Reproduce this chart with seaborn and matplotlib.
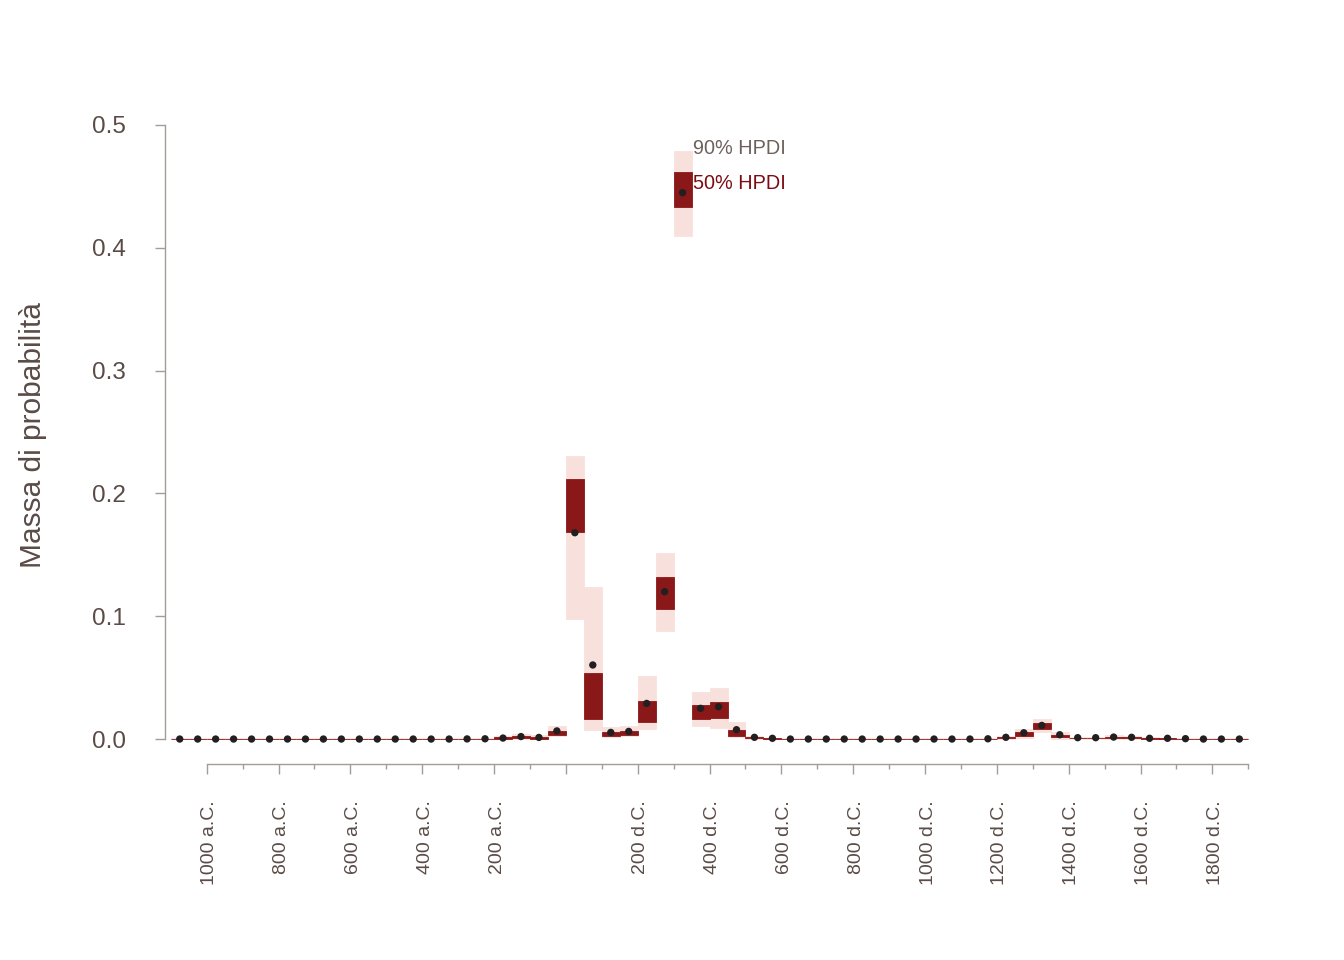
import matplotlib
matplotlib.use("Agg")
import numpy as np
import pandas as pd
import matplotlib.pyplot as plt
import matplotlib.transforms as mtrans
import seaborn as sns

# bin centres (50-year bins), years: negative = a.C.
anni = [-1075, -1025, -975, -925, -875, -825, -775, -725, -675, -625,
        -575, -525, -475, -425, -375, -325, -275, -225, -175, -125,
        -75, -25, 25, 75, 125, 175, 225, 275, 325, 375,
        425, 475, 525, 575, 625, 675, 725, 775, 825, 875,
        925, 975, 1025, 1075, 1125, 1175, 1225, 1275, 1325, 1375,
        1425, 1475, 1525, 1575, 1625, 1675, 1725, 1775, 1825, 1875]

mediana = [0, 0, 0, 0, 0, 0, 0, 0, 0, 0,
           0, 0, 0, 0, 0, 0, 0.0001, 0.0002, 0.0008, 0.002,
           0.0013, 0.0066, 0.168, 0.0603, 0.0054, 0.0062, 0.029, 0.12, 0.4449, 0.025,
           0.0263, 0.0076, 0.0014, 0.0006, 0, 0, 0, 0, 0, 0,
           0, 0, 0, 0, 0, 0.0002, 0.0014, 0.0051, 0.0111, 0.0035,
           0.0011, 0.0011, 0.0016, 0.0014, 0.0006, 0.0006, 0.0003, 0, 0, 0]

lo90 = [0, 0, 0, 0, 0, 0, 0, 0, 0, 0,
        0, 0, 0, 0, 0, 0, 0, 0, 0, 0.0002,
        0, 0.0024, 0.0977, 0.0076, 0.0019, 0.0024, 0.0084, 0.0882, 0.4096, 0.0109,
        0.0092, 0.0014, 0, 0, 0, 0, 0, 0, 0, 0,
        0, 0, 0, 0, 0, 0, 0, 0.0008, 0.0054, 0,
        0, 0, 0, 0, 0, 0, 0, 0, 0, 0]
hi90 = [0.0006, 0.0006, 0.0006, 0.0006, 0.0006, 0.0006, 0.0006, 0.0006, 0.0006, 0.0006,
        0.0006, 0.0006, 0.0006, 0.0006, 0.0006, 0.0008, 0.0012, 0.001, 0.0028, 0.0044,
        0.003, 0.0103, 0.2305, 0.1238, 0.0095, 0.0106, 0.0513, 0.1515, 0.479, 0.0383,
        0.0415, 0.0138, 0.0027, 0.0012, 0.0008, 0.0008, 0.0008, 0.0008, 0.0008, 0.0008,
        0.0008, 0.0008, 0.0008, 0.0008, 0.0008, 0.0012, 0.0027, 0.0081, 0.0163, 0.0057,
        0.002, 0.002, 0.0033, 0.0028, 0.0014, 0.0012, 0.001, 0.0008, 0.0008, 0.0006]

lo50 = [0, 0, 0, 0, 0, 0, 0, 0, 0, 0,
        0, 0, 0, 0, 0, 0, 0, 0, 0.0001, 0.0007,
        0.0004, 0.003, 0.1688, 0.0163, 0.0024, 0.003, 0.0138, 0.1059, 0.4335, 0.0163,
        0.0171, 0.0024, 0.0008, 0.0002, 0, 0, 0, 0, 0, 0,
        0, 0, 0, 0, 0, 0, 0.0008, 0.0024, 0.0081, 0.0016,
        0.0005, 0.0005, 0.0005, 0.0005, 0.0001, 0.0001, 0, 0, 0, 0]
hi50 = [0.0002, 0.0002, 0.0002, 0.0002, 0.0002, 0.0002, 0.0002, 0.0002, 0.0002, 0.0002,
        0.0002, 0.0002, 0.0002, 0.0002, 0.0002, 0.0002, 0.0003, 0.0004, 0.0015, 0.0022,
        0.0018, 0.0069, 0.2117, 0.0537, 0.0057, 0.0065, 0.031, 0.132, 0.4617, 0.0277,
        0.0301, 0.0073, 0.0015, 0.0008, 0.0003, 0.0002, 0.0002, 0.0002, 0.0002, 0.0002,
        0.0002, 0.0002, 0.0002, 0.0002, 0.0002, 0.0003, 0.0018, 0.006, 0.0133, 0.0033,
        0.0012, 0.0012, 0.002, 0.0016, 0.0008, 0.0008, 0.0004, 0.0002, 0.0002, 0.0002]

# axis ticks
x_major = [-1000, -800, -600, -400, -200, 0, 200, 400, 600, 800,
           1000, 1200, 1400, 1600, 1800]
x_labels = ['1000 a.C.', '800 a.C.', '600 a.C.', '400 a.C.', '200 a.C.', '',
            '200 d.C.', '400 d.C.', '600 d.C.', '800 d.C.', '1000 d.C.',
            '1200 d.C.', '1400 d.C.', '1600 d.C.', '1800 d.C.']
x_minor = [-900, -700, -500, -300, -100, 100, 300, 500, 700, 900,
           1100, 1300, 1500, 1700, 1900]
y_ticks = [0.0, 0.1, 0.2, 0.3, 0.4, 0.5]
y_labels = ['0.0', '0.1', '0.2', '0.3', '0.4', '0.5']

df = pd.DataFrame({'anno': anni, 'mediana': mediana,
                   'lo90': lo90, 'hi90': hi90, 'lo50': lo50, 'hi50': hi50})

######## colours ########
pink = '#F8E1DC'
dark = '#8A1818'
punto = '#231F20'
axis_col = '#A59C97'
text_col = '#5A4B46'

sns.set_theme(style='white')
plt.rcParams['font.family'] = ['Liberation Sans', 'DejaVu Sans']

fig = plt.figure(figsize=(13.44, 9.6), dpi=100)
ax = fig.add_axes([165/1344, 1-763.6/960, (1290-165)/1344, (763.6-100.4)/960])

# HPDI boxes
ax.bar(df['anno'], df['hi90'] - df['lo90'], bottom=df['lo90'], width=50,
       color=pink, edgecolor=pink, linewidth=0.6, zorder=1)
ax.bar(df['anno'], df['hi50'] - df['lo50'], bottom=df['lo50'], width=50,
       color=dark, edgecolor=dark, linewidth=0.6, zorder=2)

# medians
sns.scatterplot(data=df, x='anno', y='mediana', color=punto, s=28,
                edgecolor='none', ax=ax, zorder=3)

# legend-ish labels next to the tallest bin
ax.text(355, 0.4805, '90% HPDI', ha='left', va='center', fontsize=14.3, color='#6E615C')
ax.text(355, 0.452, '50% HPDI', ha='left', va='center', fontsize=14.3, color='#7B0C12')

ax.set_xlim(-1116, 2016)
ax.set_ylim(-0.02, 0.52)

for s in ['top', 'right']:
    ax.spines[s].set_visible(False)
ax.spines['left'].set_bounds(0, 0.5)
ax.spines['bottom'].set_bounds(-1000, 1900)
for s in ['left', 'bottom']:
    ax.spines[s].set_color(axis_col)
    ax.spines[s].set_linewidth(1)

ax.set_yticks(y_ticks)
ax.set_yticklabels(y_labels)
ax.set_xticks(x_major)
ax.set_xticklabels(x_labels, rotation=90)
ax.set_xticks(x_minor, minor=True)

ax.tick_params(axis='y', length=7.2, width=1, color=axis_col, pad=21,
               labelsize=17.5, labelcolor=text_col, left=True)
ax.tick_params(axis='x', which='major', length=7.2, width=1, color=axis_col,
               pad=19, labelsize=14, labelcolor=text_col, bottom=True)
ax.tick_params(axis='x', which='minor', length=3.6, width=1, color=axis_col,
               bottom=True)

# nudge the rotated year labels a little to the right, as in the original
shift = mtrans.ScaledTranslation(3/100, 0, fig.dpi_scale_trans)
for lab in ax.get_xticklabels():
    lab.set_transform(lab.get_transform() + shift)

ax.set_xlabel('')
ax.set_ylabel('')
ax.grid(False)

fig.text(33/1344, 1-435/960, 'Massa di probabilità', rotation=90,
         ha='center', va='center', fontsize=21.5, color=text_col)

fig.savefig('out.png', dpi=100)
